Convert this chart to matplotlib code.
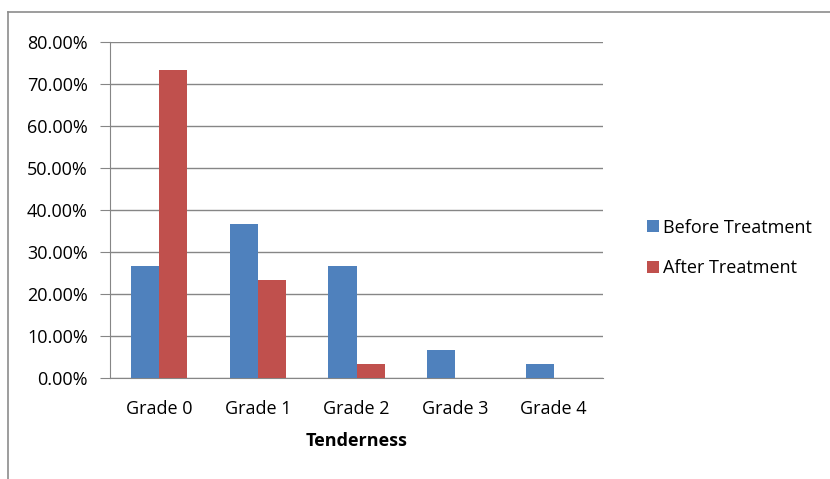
import matplotlib
matplotlib.use("Agg")
import matplotlib.pyplot as plt
from matplotlib.lines import Line2D
import numpy as np

categories = ["Grade 0", "Grade 1", "Grade 2", "Grade 3", "Grade 4"]
before = [26.67, 36.67, 26.67, 6.67, 3.33]
after = [73.33, 23.33, 3.33, 0.0, 0.0]
yticks = [0, 10, 20, 30, 40, 50, 60, 70, 80]

plt.rcParams['font.family'] = ['Open Sans', 'DejaVu Sans']
fs = 13

W, H = 830, 479
fig = plt.figure(figsize=(W / 100, H / 100), dpi=100)
# plot area in pixels: x 110..603, y 42..378
ax = fig.add_axes([110 / W, 1 - 378 / H, (603 - 110) / W, (378 - 42) / H])

x = np.arange(len(categories))
w = 0.285
blue = "#4f81bd"
red = "#c0504d"
ax.bar(x - w / 2, before, w, color=blue, label="Before Treatment", zorder=3)
ax.bar(x + w / 2, after, w, color=red, label="After Treatment", zorder=3)

ax.set_xlim(-0.5, len(categories) - 0.5)
ax.set_ylim(0, 80)
ax.set_yticks(yticks)
ax.set_yticklabels(["%.2f%%" % v for v in yticks], fontsize=fs)
ax.set_xticks(x)
ax.set_xticklabels(categories, fontsize=fs)
ax.tick_params(axis='x', length=0, pad=16)
ax.tick_params(axis='y', length=7, color="#868686", pad=9)
ax.grid(axis='y', color="#868686", linewidth=1, zorder=0)
for s in ["top", "right"]:
    ax.spines[s].set_visible(False)
ax.spines["left"].set_color("#868686")
ax.spines["bottom"].set_color("#868686")
ax.set_xlabel("Tenderness", fontsize=fs, fontweight="bold", labelpad=10)

ax.legend(loc="center left", bbox_to_anchor=(647 / W, 1 - 248 / H),
          bbox_transform=fig.transFigure, frameon=False, fontsize=fs,
          handlelength=0.65, handleheight=0.65, handletextpad=0.25,
          labelspacing=1.25, borderpad=0, borderaxespad=0)

# outer chart border (top and left visible)
fig.add_artist(Line2D([8 / W, 1.0], [1 - 12 / H, 1 - 12 / H],
                      transform=fig.transFigure, color="#8c8c8c", linewidth=1.2))
fig.add_artist(Line2D([8 / W, 8 / W], [0.0, 1 - 12 / H],
                      transform=fig.transFigure, color="#8c8c8c", linewidth=1.2))

fig.savefig("out.png", dpi=100, facecolor="white")
